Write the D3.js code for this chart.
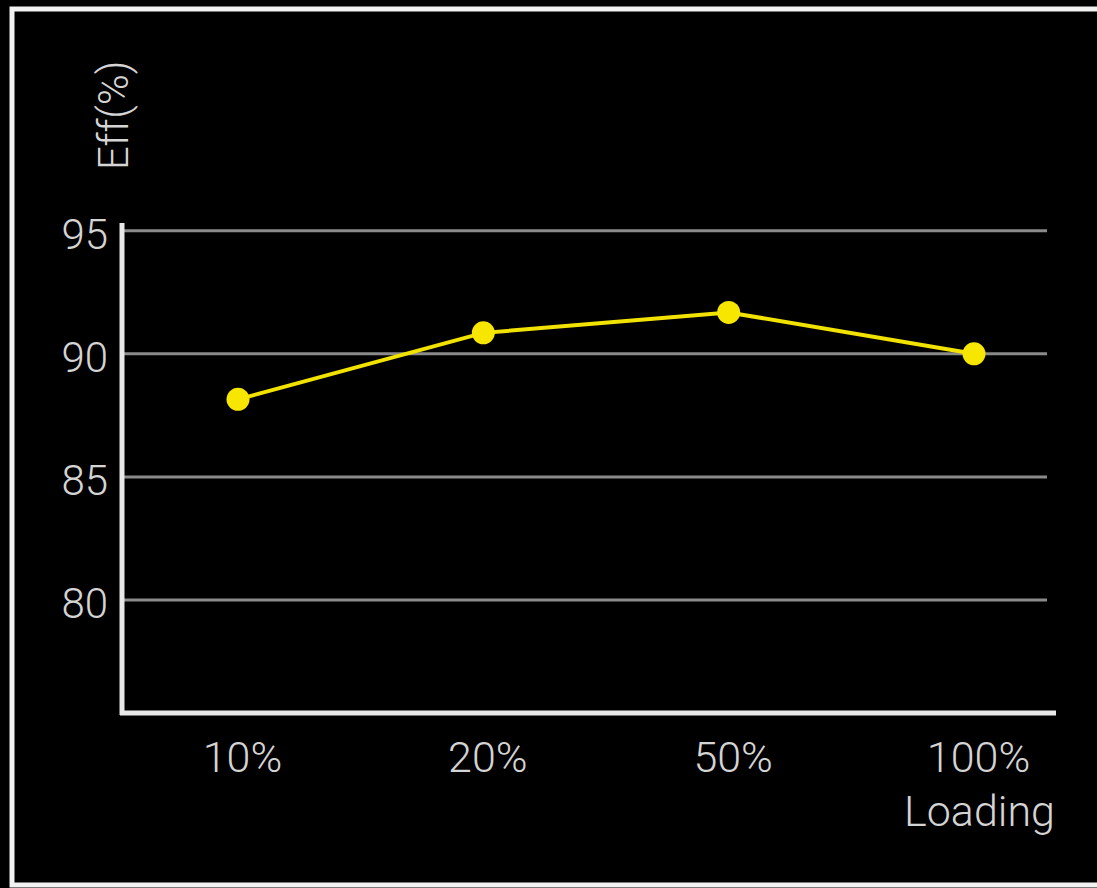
<!DOCTYPE html>
<html>
<head>
<meta charset="utf-8">
<script src="https://cdn.jsdelivr.net/npm/d3@7"></script>
<style>
  html, body { margin: 0; padding: 0; background: #000; }
  svg { display: block; }
  text { font-family: Roboto, "Liberation Sans", sans-serif; font-weight: 300; fill: #d4d4d4; }
</style>
</head>
<body>
<div id="chart"></div>
<script>
// chart data
var loadings = ["10%", "20%", "50%", "100%"];
var efficiency = [88.15, 90.85, 91.68, 90.0];
var yTicks = [80, 85, 90, 95];

/**
 * renders the efficiency chart
 */
function renderChart(container) {
  var width = 1097, height = 888;

  var svg = d3.select(container).append("svg")
    .attr("width", width).attr("height", height);

  // black background and the white frame
  svg.append("rect").attr("width", width).attr("height", height).attr("fill", "#000");
  svg.append("rect").attr("x", 12).attr("y", 9).attr("width", 1110).attr("height", 876)
    .attr("fill", "none").attr("stroke", "#f2f2f2").attr("stroke-width", 5);

  // scales
  var x = d3.scalePoint().domain(loadings).range([238, 974]);
  var y = d3.scaleLinear().domain([75.41, 95]).range([713, 230.7]);

  var left = 122, right = 1047;

  // grid lines
  svg.append("g").selectAll("line").data(yTicks).join("line")
    .attr("x1", left).attr("x2", right)
    .attr("y1", function(d) { return y(d); }).attr("y2", function(d) { return y(d); })
    .attr("stroke", "#8a8a8a").attr("stroke-width", 3);

  // y tick labels
  var yAxis = d3.axisLeft(y).tickValues(yTicks).tickSize(0).tickPadding(0);
  var gy = svg.append("g").attr("transform", "translate(108,4)").call(yAxis);
  gy.select(".domain").remove();
  gy.selectAll("text").attr("font-size", 42).attr("fill", "#d4d4d4")
    .attr("font-family", "Roboto, 'Liberation Sans', sans-serif");

  // x tick labels
  var xAxis = d3.axisBottom(x).tickSize(0).tickPadding(0);
  var gx = svg.append("g").attr("transform", "translate(4,741)").call(xAxis);
  gx.select(".domain").remove();
  gx.selectAll("text").attr("font-size", 43).attr("fill", "#d4d4d4")
    .attr("font-family", "Roboto, 'Liberation Sans', sans-serif");

  // axis lines
  svg.append("line").attr("x1", left).attr("x2", left).attr("y1", 223).attr("y2", 715)
    .attr("stroke", "#e8e8e8").attr("stroke-width", 5);
  svg.append("line").attr("x1", left - 2).attr("x2", 1056).attr("y1", 713).attr("y2", 713)
    .attr("stroke", "#e8e8e8").attr("stroke-width", 5);

  // axis titles
  svg.append("text").attr("transform", "translate(128,170) rotate(-90)")
    .attr("font-size", 42).text("Eff(%)");
  svg.append("text").attr("x", 1055).attr("y", 826).attr("text-anchor", "end")
    .attr("font-size", 43).text("Loading");

  // efficiency line
  var line = d3.line()
    .x(function(d, i) { return x(loadings[i]); })
    .y(function(d) { return y(d); });

  svg.append("path").datum(efficiency).attr("d", line)
    .attr("fill", "none").attr("stroke", "#f2e200").attr("stroke-width", 4);

  svg.append("g").selectAll("circle").data(efficiency).join("circle")
    .attr("cx", function(d, i) { return x(loadings[i]); })
    .attr("cy", function(d) { return y(d); })
    .attr("r", 11.5).attr("fill", "#f7e600");
}

renderChart("#chart");
</script>
</body>
</html>
